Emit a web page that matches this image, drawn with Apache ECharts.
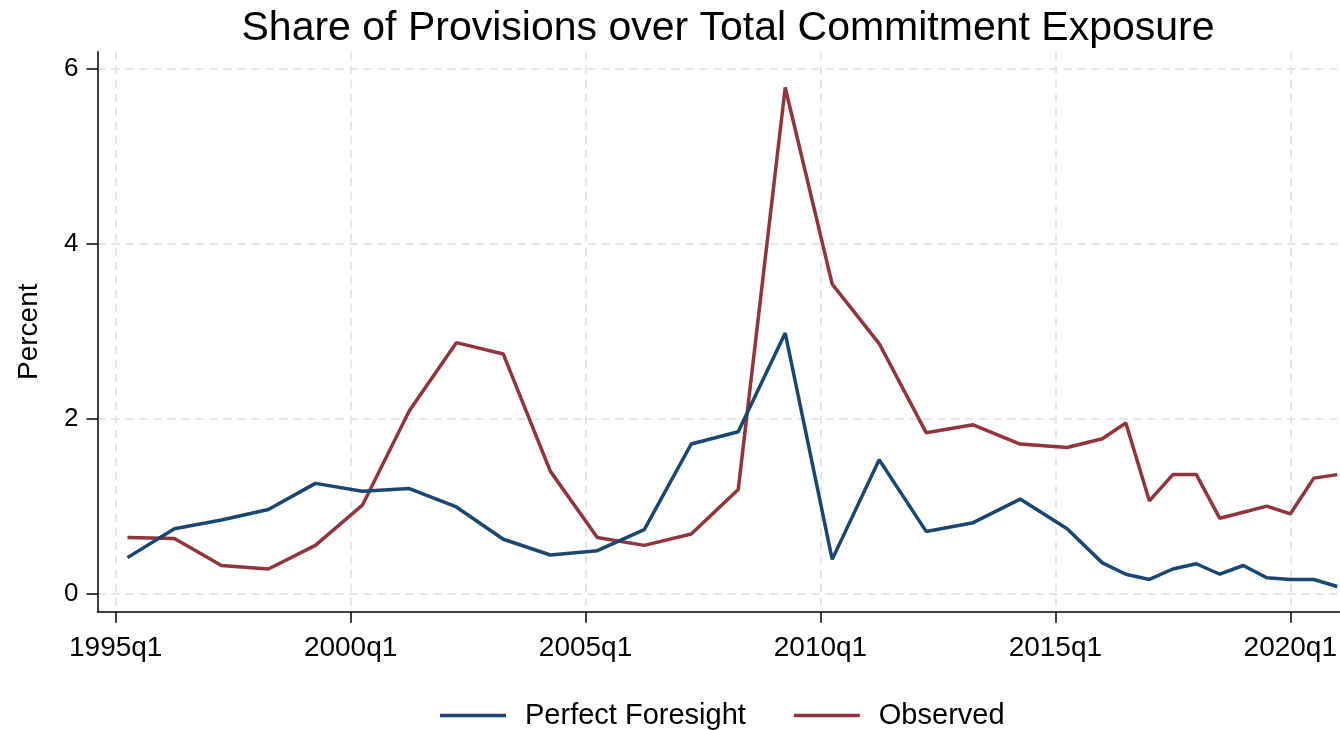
<!DOCTYPE html>
<html>
<head>
<meta charset="utf-8">
<script src="https://cdn.jsdelivr.net/npm/echarts@6/dist/echarts.min.js"></script>
<style>
html,body{margin:0;padding:0;background:#fff;}
#chart{width:1340px;height:730px;}
</style>
</head>
<body>
<div id="chart"></div>
<script>
// ---- data ----
const titleText = 'Share of Provisions over Total Commitment Exposure';
const yAxisTitle = 'Percent';
const periods = ['1995q2','1996q2','1997q2','1998q2','1999q2','2000q2','2001q2','2002q2','2003q2','2004q2',
  '2005q2','2006q2','2007q2','2008q2','2009q2','2010q2','2011q2','2012q2','2013q2','2014q2','2015q2',
  '2016q1','2016q3','2017q1','2017q3','2018q1','2018q3','2019q1','2019q3','2020q1','2020q3','2021q1'];
const perfectForesight = [0.41,0.74,0.84,0.96,1.26,1.17,1.20,0.99,0.62,0.44,
  0.49,0.73,1.71,1.85,2.98,0.39,1.53,0.71,0.81,1.08,0.74,
  0.35,0.22,0.16,0.28,0.34,0.22,0.32,0.18,0.16,0.16,0.08];
const observed = [0.64,0.63,0.32,0.28,0.55,1.01,2.09,2.87,2.74,1.40,
  0.64,0.55,0.68,1.19,5.79,3.54,2.86,1.84,1.93,1.71,1.67,
  1.77,1.95,1.06,1.36,1.36,0.86,0.93,1.00,0.91,1.32,1.36];
const xTickLabels = ['1995q1','2000q1','2005q1','2010q1','2015q1','2020q1'];
const yTickValues = [0,2,4,6];
const seriesNames = ['Perfect Foresight','Observed'];

// ---- helpers ----
const baseYear = 1995;
function qIndex(s){ const y = parseInt(s.slice(0,4),10); const q = parseInt(s.slice(5),10); return (y-baseYear)*4 + (q-1); }
function qLabel(v){ const y = baseYear + Math.floor(v/4); const q = ((v%4)+4)%4 + 1; return y + 'q' + q; }
const xTickValues = xTickLabels.map(qIndex);
const pfData = periods.map((p,i)=>[qIndex(p), perfectForesight[i]]);
const obData = periods.map((p,i)=>[qIndex(p), observed[i]]);

const FONT = 'Liberation Sans, Arial, sans-serif';
const chart = echarts.init(document.getElementById('chart'), null, {renderer:'canvas'});
chart.setOption({
  backgroundColor:'#ffffff',
  animation:false,
  title:{
    text:titleText, left:723, top:3, textAlign:'center',
    textStyle:{fontFamily:FONT, fontSize:41, fontWeight:'normal', color:'#000'}
  },
  legend:{
    data:seriesNames, left:435, top:696, itemWidth:66, itemHeight:3.5, itemGap:48,
    icon:'rect',
    textStyle:{fontFamily:FONT, fontSize:29, color:'#000', padding:[0,0,0,14]}
  },
  grid:{left:97.5, right:0, top:51.7, bottom:118.2, containLabel:false},
  xAxis:{
    type:'value', min:-1.55, max:104.2,
    axisLine:{show:true, onZero:false, lineStyle:{color:'#000', width:1.5}},
    axisTick:{show:true, length:11, customValues:xTickValues, lineStyle:{color:'#000', width:1.5}},
    axisLabel:{customValues:xTickValues, formatter:v=>qLabel(v), margin:22,
      fontFamily:FONT, fontSize:28, color:'#000'},
    splitLine:{show:true, lineStyle:{color:'#e6e6e6', width:2, type:[8,6]}}
  },
  yAxis:{
    type:'value', min:-0.21, max:6.2,
    name:yAxisTitle, nameLocation:'middle', nameRotate:90, nameGap:54,
    nameTextStyle:{fontFamily:FONT, fontSize:28, color:'#000'},
    axisLine:{show:true, onZero:false, lineStyle:{color:'#000', width:1.5}},
    axisTick:{show:true, length:11, customValues:yTickValues, lineStyle:{color:'#000', width:1.5}},
    axisLabel:{customValues:yTickValues, margin:19, fontFamily:FONT, fontSize:26, color:'#000'},
    splitLine:{show:true, lineStyle:{color:'#e6e6e6', width:2, type:[8,6]}}
  },
  series:[
    {name:seriesNames[0], type:'line', data:pfData, symbol:'none', color:'#1a476f',
     lineStyle:{width:3.5, color:'#1a476f'}, z:3},
    {name:seriesNames[1], type:'line', data:obData, symbol:'none', color:'#90353b',
     lineStyle:{width:3.5, color:'#90353b'}, z:2}
  ]
});
</script>
</body>
</html>
